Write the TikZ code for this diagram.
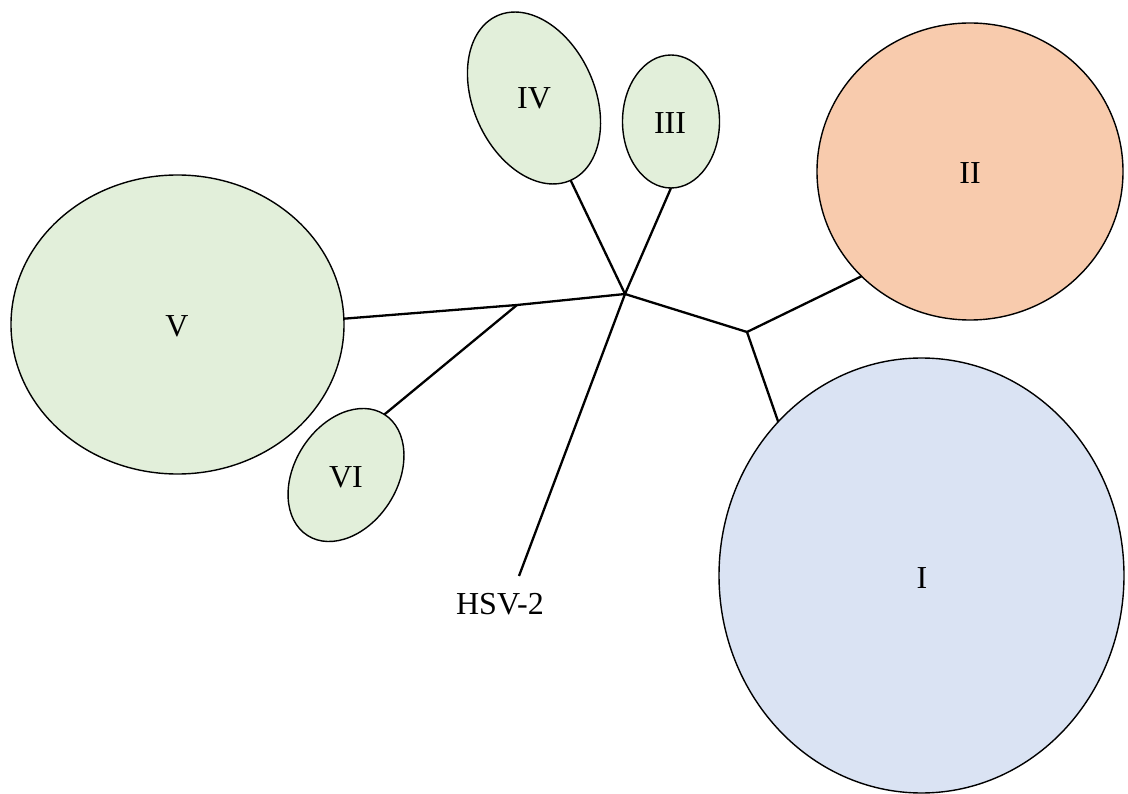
\documentclass[tikz,border=0pt]{standalone}
\usepackage{fontspec}
\setmainfont{Liberation Serif}
\usetikzlibrary{shapes.geometric}
\definecolor{cgreen}{HTML}{E2EFDA}
\definecolor{corange}{HTML}{F8CBAD}
\definecolor{cblue}{HTML}{DAE3F3}
\tikzset{
  blob/.style={ellipse, draw=black, line width=1.4pt, inner sep=0pt, outer sep=0pt},
  lbl/.style={font=\fontsize{32}{38}\selectfont, inner sep=0pt},
  branch/.style={line width=2.3pt, line join=miter},
}
\begin{document}
\begin{tikzpicture}[x=1pt,y=1pt]
\useasboundingbox (0,0) rectangle (1128,-794);
% clusters
\node[blob, fill=cgreen, minimum width=333pt, minimum height=299pt] (V) at (177.5,-324.5) {};
\node[blob, fill=cgreen, minimum width=102.8pt, minimum height=143.4pt, rotate=-32.4] (VI) at (346,-475) {};
\node[blob, fill=cgreen, minimum width=121.6pt, minimum height=180.2pt, rotate=24] (IV) at (534,-98) {};
\node[blob, fill=cgreen, minimum width=97pt, minimum height=133pt] (III) at (671,-121.5) {};
\node[blob, fill=corange, minimum width=306pt, minimum height=297pt] (II) at (970,-171.5) {};
\node[blob, fill=cblue, minimum width=405pt, minimum height=435pt] (I) at (921.5,-575.5) {};
% labels
\node[lbl] (tV) at (177,-326) {V};
\node[lbl] (tVI) at (346,-477) {VI};
\node[lbl] (tIV) at (534,-98) {IV};
\node[lbl] (tIII) at (670,-123) {III};
\node[lbl] (tII) at (970,-173) {II};
\node[lbl] (tI) at (922,-578) {I};
\node[lbl] (hsv) at (500,-604) {HSV-2};
% internal points
\coordinate (hub) at (625,-294);
\coordinate (j1) at (747,-332);
\coordinate (j2) at (517,-305);
\coordinate (hsvend) at (519,-576);
% branches
\draw[branch] (V.2) -- (j2) -- (hub);
\draw[branch] (j2) -- (VI.north);
\draw[branch] (hub) -- (IV.south);
\draw[branch] (hub) -- (III.south);
\draw[branch] (hub) -- (hsvend);
\draw[branch] (hub) -- (j1);
\draw[branch] (j1) -- (II.224);
\draw[branch] (j1) -- (I.133);
\end{tikzpicture}
\end{document}
